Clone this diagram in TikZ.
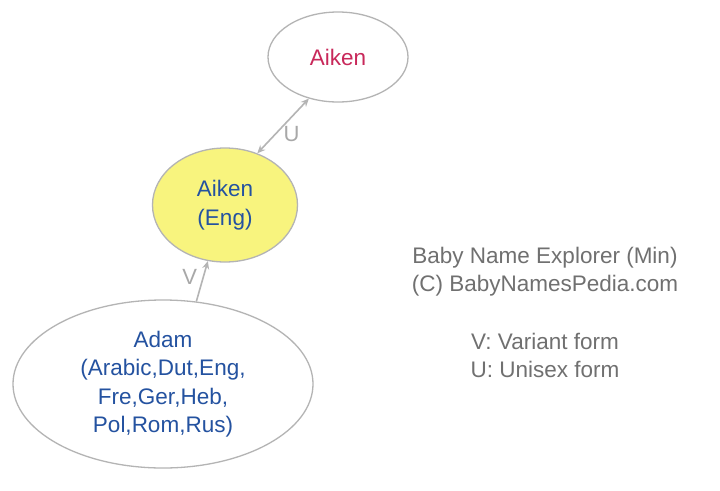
\documentclass[tikz,border=0pt]{standalone}
\usepackage{fontspec}
\setmainfont{Liberation Sans}
\usetikzlibrary{shapes.geometric,arrows.meta}
\definecolor{edgegray}{HTML}{B4B4B4}
\definecolor{labgray}{HTML}{A8A8A8}
\definecolor{legendgray}{HTML}{707070}
\definecolor{namered}{HTML}{C8285A}
\definecolor{nameblue}{HTML}{2452A0}
\definecolor{nodeyellow}{HTML}{F8F47E}
\begin{document}
\begin{tikzpicture}[x=1pt,y=-1pt,
  namenode/.style={ellipse,draw=edgegray,line width=1.3pt,inner sep=0pt,align=center,font=\fontsize{22.5}{28.5}\selectfont},
  conn/.style={draw=edgegray,line width=1.6pt,-{Stealth[length=8pt,width=7pt]}},
  lab/.style={text=labgray,font=\fontsize{22}{26}\selectfont},
  legend/.style={text=legendgray,font=\fontsize{22.5}{28}\selectfont,align=center}]
\useasboundingbox (0,0) rectangle (720,490);
\fill[white] (0,0) rectangle (720,490);
\node[namenode,minimum width=140pt,minimum height=90pt,text=namered] (top) at (338,57) {Aiken};
\node[namenode,minimum width=145pt,minimum height=114pt,fill=nodeyellow,text=nameblue] (eng) at (225,205) {Aiken\\(Eng)};
\node[namenode,minimum width=300pt,minimum height=168pt,text=nameblue] (adam) at (163,384) {Adam\\(Arabic,Dut,Eng,\\Fre,Ger,Heb,\\Pol,Rom,Rus)};
\draw[conn,{Stealth[length=8pt,width=7pt]}-{Stealth[length=8pt,width=7pt]}] (eng.58) -- node[lab,right=4pt,pos=0.35] {U} (top.235);
\draw[conn] (adam.68) -- node[lab,left=2pt,pos=0.6] {V} (eng.253);
\node[legend] (leg1) at (545,272) {Baby Name Explorer (Min)\\(C) BabyNamesPedia.com};
\node[legend] (leg2) at (545,355) {V: Variant form\\U: Unisex form};
\end{tikzpicture}
\end{document}
